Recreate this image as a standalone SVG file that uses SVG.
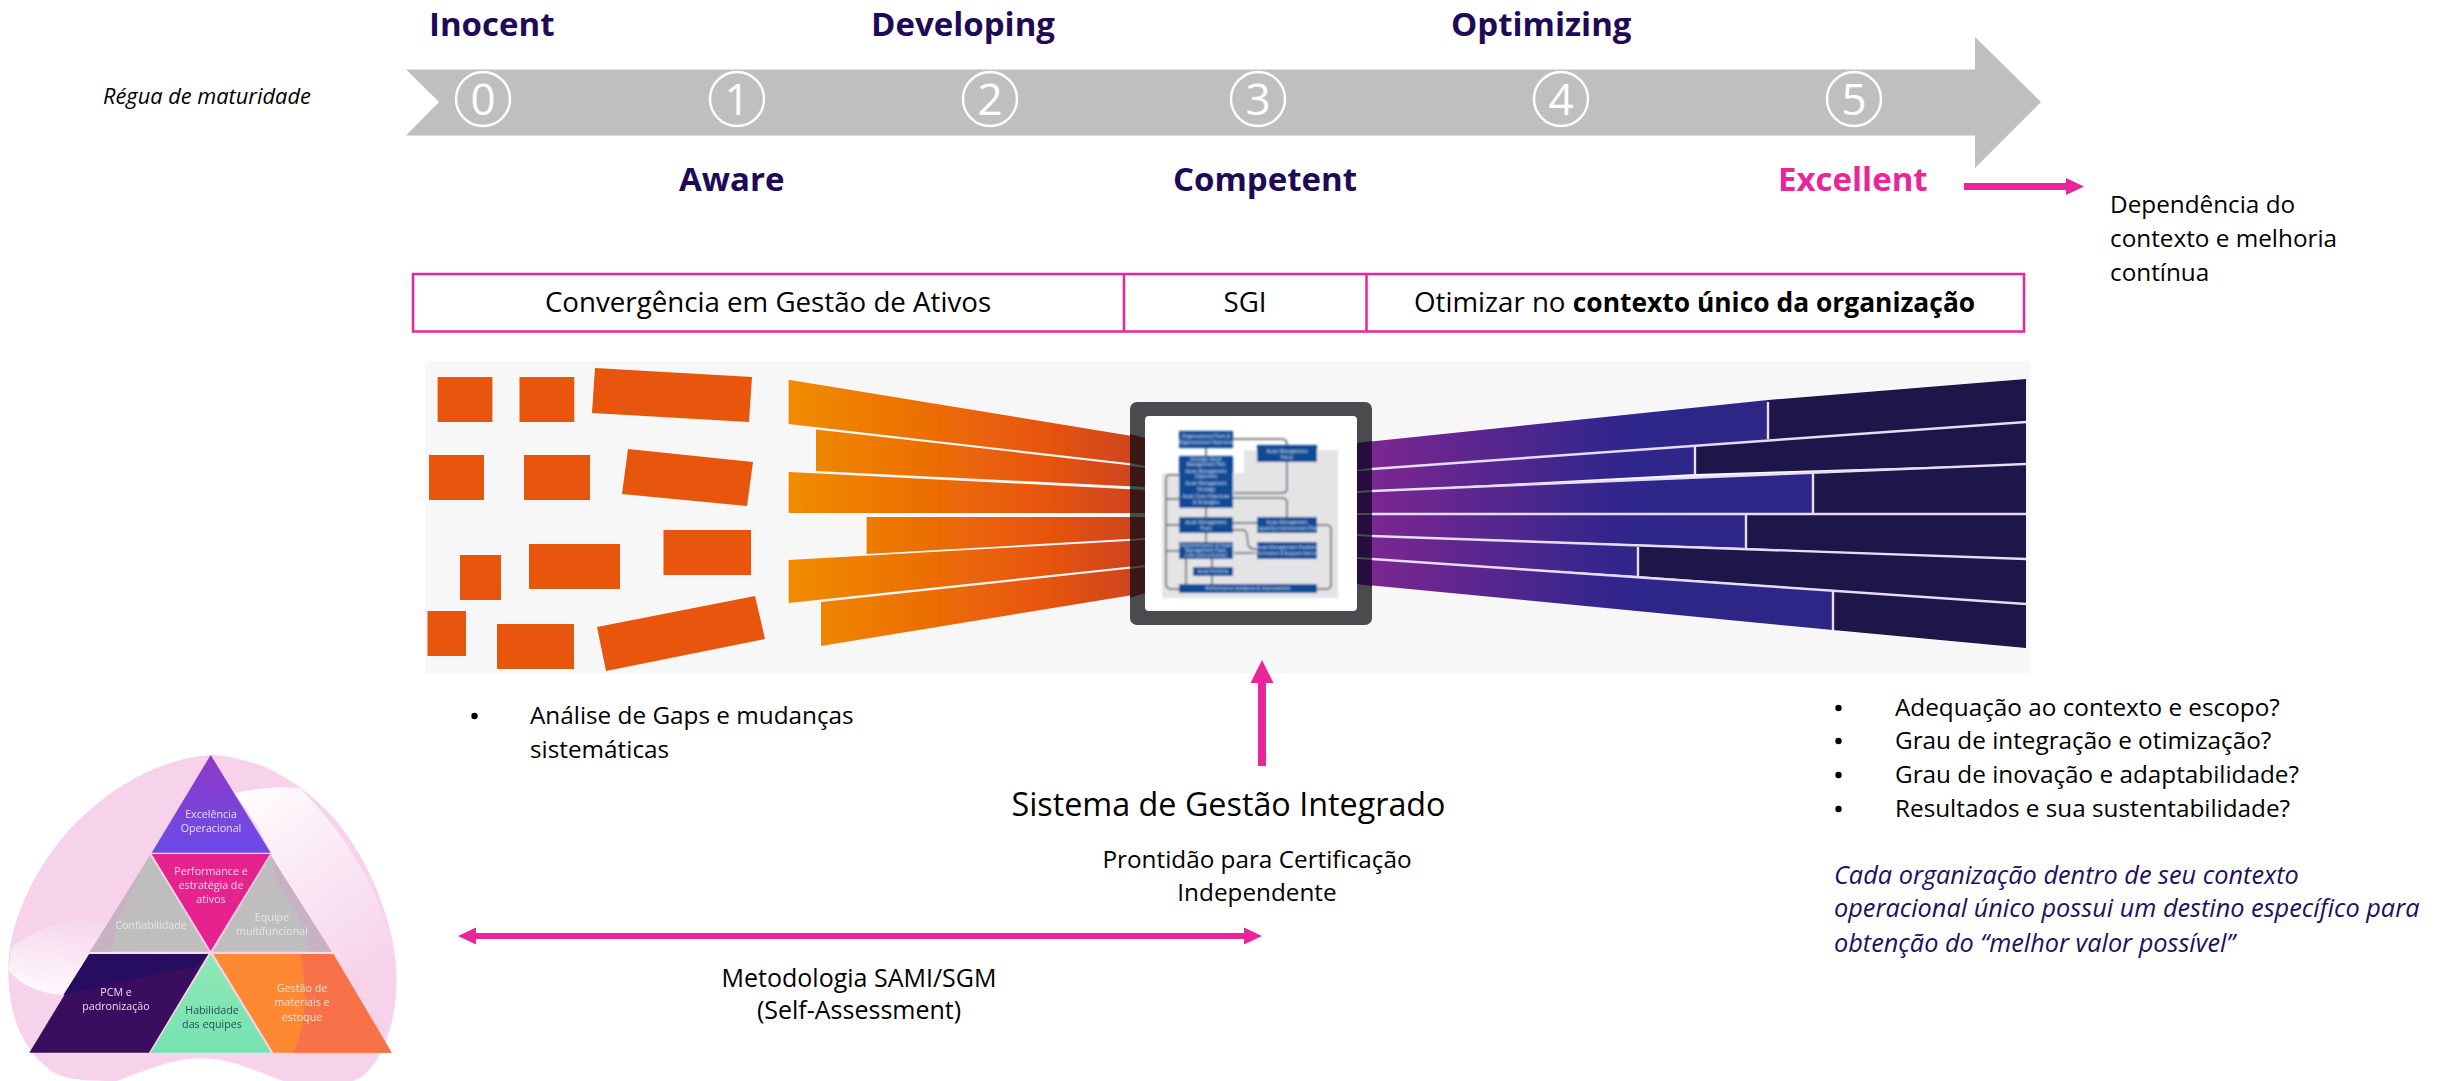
<svg xmlns="http://www.w3.org/2000/svg" width="2453" height="1081" viewBox="0 0 2453 1081">
<defs>
<style>
text{font-family:"Open Sans","Noto Sans","Liberation Sans",sans-serif;fill:#000}
.lv{font-size:33px;font-weight:700;fill:#1F0A58}
.num{font-size:44px;fill:#fff;text-anchor:middle}
.ring{fill:none;stroke:#fff;stroke-width:2.4}
.t24{font-size:24.3px}
.t25{font-size:25px}
.t28{font-size:27.7px}
.mid{text-anchor:middle}
.it{font-size:25.3px;font-style:italic;fill:#1F0F5E}
.org{fill:#E8550A}
.pk{fill:#E9259A}
.div{fill:none;stroke:#E9259A;stroke-width:2.5}
.fan{fill:url(#gOrange)}
.fl{fill:url(#gPurple)}
.fd{fill:#1C1248}
.sep{stroke:#E6DDF5;stroke-width:2.4;fill:none}
.mb{fill:#0F4C96}
.mc{fill:none;stroke:#55585E;stroke-width:1.5}
.mt{font-size:4.6px;fill:#D5E3F5;text-anchor:middle}
.p{font-size:10.7px;text-anchor:middle}
</style>
<linearGradient id="gOrange" gradientUnits="userSpaceOnUse" x1="789" y1="0" x2="1145" y2="0">
<stop offset="0" stop-color="#F08C00"/><stop offset=".7" stop-color="#E8560A"/><stop offset="1" stop-color="#CC4222"/>
</linearGradient>
<linearGradient id="gPurple" gradientUnits="userSpaceOnUse" x1="1372" y1="0" x2="1700" y2="0">
<stop offset="0" stop-color="#7C2690"/><stop offset=".75" stop-color="#30288C"/><stop offset="1" stop-color="#2D2786"/>
</linearGradient>
<linearGradient id="gTop" x1="0" y1="0" x2="0" y2="1">
<stop offset="0" stop-color="#9038C4"/><stop offset="1" stop-color="#6A4CEA"/>
</linearGradient>
<linearGradient id="gGreen" x1="0" y1="0" x2="0" y2="1">
<stop offset="0" stop-color="#8FE8B4"/><stop offset="1" stop-color="#76E2B2"/>
</linearGradient>
<linearGradient id="gW1" x1="0" y1="1" x2="0.3" y2="0">
<stop offset="0" stop-color="#fff" stop-opacity=".95"/><stop offset="1" stop-color="#fff" stop-opacity="0"/>
</linearGradient>
<linearGradient id="gW2" gradientUnits="userSpaceOnUse" x1="760" y1="170" x2="1150" y2="720">
<stop offset="0" stop-color="#fff" stop-opacity=".95"/><stop offset=".55" stop-color="#fff" stop-opacity=".4"/><stop offset="1" stop-color="#fff" stop-opacity="0"/>
</linearGradient>
<filter id="b1" x="-5%" y="-5%" width="110%" height="110%"><feGaussianBlur stdDeviation="0.7"/></filter>
<filter id="b2" x="-5%" y="-5%" width="110%" height="110%"><feGaussianBlur stdDeviation="0.9"/></filter>
<filter id="b3" x="-5%" y="-5%" width="110%" height="110%"><feGaussianBlur stdDeviation="0.3"/></filter>
</defs>

<rect width="2453" height="1081" fill="#fff"/>

<g id="ruler">
<path d="M406 69.5H1975V37L2041 102L1975 168V135.5H406L439 102z" fill="#BFBFBF"/>
<g id="level0"><circle class="ring" cx="483" cy="99" r="27"/><text class="num" x="483" y="115">0</text></g>
<g id="level1"><circle class="ring" cx="737" cy="99" r="27"/><text class="num" x="737" y="115">1</text></g>
<g id="level2"><circle class="ring" cx="990" cy="99" r="27"/><text class="num" x="990" y="115">2</text></g>
<g id="level3"><circle class="ring" cx="1258" cy="99" r="27"/><text class="num" x="1258" y="115">3</text></g>
<g id="level4"><circle class="ring" cx="1561" cy="99" r="27"/><text class="num" x="1561" y="115">4</text></g>
<g id="level5"><circle class="ring" cx="1854" cy="99" r="27"/><text class="num" x="1854" y="115">5</text></g>
</g>
<text x="103" y="104" font-size="21.8" font-style="italic">Régua de maturidade</text>
<g id="labels">
<text class="lv" x="429" y="36">Inocent</text>
<text class="lv" x="871" y="36">Developing</text>
<text class="lv" x="1451" y="36">Optimizing</text>
<text class="lv" x="679" y="191">Aware</text>
<text class="lv" x="1173" y="191">Competent</text>
<text class="lv" x="1778" y="191" style="fill:#E9259A">Excellent</text>
</g>

<text class="t24" x="2110" y="213">Dependência do</text>
<text class="t24" x="2110" y="247">contexto e melhoria</text>
<text class="t24" x="2110" y="281">contínua</text>

<g id="phases">
<rect class="div" x="413" y="274" width="1611" height="57.5"/>
<path class="div" d="M1124 274V331.5M1366.5 274V331.5"/>
<text class="t28 mid" x="768" y="312">Convergência em Gestão de Ativos</text>
<text class="t28 mid" x="1245" y="312">SGI</text>
<text class="t28" x="1414" y="312">Otimizar no <tspan font-weight="700" font-size="26.4">contexto único da organização</tspan></text>
</g>

<rect id="funnel-bg" x="425" y="361" width="1605" height="312" fill="#F7F7F8"/>

<g id="blocks" filter="url(#b1)">
<rect class="org" x="437.6" y="377" width="54.8" height="45"/>
<rect class="org" x="519.5" y="377" width="54.8" height="45"/>
<polygon class="org" points="595,368 752,377 749,422 592,413"/>
<rect class="org" x="429" y="455" width="55" height="45"/>
<rect class="org" x="524" y="455" width="66" height="45"/>
<polygon class="org" points="628,449 753,462 747,506 622,494"/>
<rect class="org" x="460" y="555" width="41" height="45"/>
<rect class="org" x="529" y="544" width="91" height="45"/>
<rect class="org" x="663.5" y="530" width="87.5" height="45"/>
<rect class="org" x="427.5" y="611" width="38.5" height="45"/>
<rect class="org" x="497" y="624" width="77" height="45"/>
<polygon class="org" points="597,627 755,596 765,639 606,671"/>
<polygon class="fan" points="788.6,379.7 1132,436 1145,439 1145,465 788.6,424"/>
<polygon class="fan" points="816,429.5 1145,467 1145,487 816,471"/>
<polygon class="fan" points="788.6,472 1145,490 1145,513 788.6,513"/>
<polygon class="fan" points="866.6,517 1145,517 1145,538 866.6,554"/>
<polygon class="fan" points="788.6,560 1145,540 1145,565 788.6,603"/>
<polygon class="fan" points="821,602 1145,567 1145,593 821,646"/>
</g>

<g id="purple-bands" filter="url(#b1)">
<polygon class="fl" points="1357,443 1768,400 1768,440 1357,470"/>
<polygon class="fd" points="1768,400 2026,379 2026,422 1768,440"/>
<polygon class="fl" points="1357,470 1695,445 1695,474 1357,492"/>
<polygon class="fd" points="1695,445 2026,422 2026,464 1695,474"/>
<polygon class="fl" points="1357,492 1813,473 1813,514 1357,514"/>
<polygon class="fd" points="1813,473 2026,464 2026,514 1813,514"/>
<polygon class="fl" points="1357,514 1746,514 1746,548 1357,535"/>
<polygon class="fd" points="1746,514 2026,514 2026,559 1746,548"/>
<polygon class="fl" points="1357,535 1638,546 1638,576 1357,558"/>
<polygon class="fd" points="1638,546 2026,559 2026,604 1638,576"/>
<polygon class="fl" points="1357,558 1833,591 1833,630 1357,584"/>
<polygon class="fd" points="1833,591 2026,604 2026,648 1833,630"/>
<path class="sep" d="M1372 469L2026 422M1372 491L2026 464M1372 514H2026M1372 536L2026 559M1372 559L2026 604M1768 402V439M1695 446V475M1813 474V514M1746 514V548M1638 547V576M1833 592V630"/>
</g>

<g id="monitor" filter="url(#b1)">
<rect x="1130" y="402" width="242" height="223" rx="7" fill="#4B4B50"/>
<rect x="1145" y="416" width="212" height="195" rx="4" fill="#fff"/>
<g fill="#3A1712">
<polygon points="1130,434 1145,438 1145,466 1130,463"/>
<polygon points="1130,466 1145,468 1145,487 1130,486"/>
<polygon points="1130,489 1145,490 1145,513 1130,513"/>
<polygon points="1130,517 1145,517 1145,538 1130,539"/>
<polygon points="1130,541 1145,540 1145,565 1130,567"/>
<polygon points="1130,569 1145,567 1145,593 1130,598"/>
</g>
<g fill="#260C3C">
<polygon points="1357,443 1372,441 1372,468 1357,470"/>
<polygon points="1357,471 1372,470 1372,490 1357,491"/>
<polygon points="1357,493 1372,492 1372,513 1357,513"/>
<polygon points="1357,515 1372,515 1372,535 1357,534"/>
<polygon points="1357,536 1372,537 1372,558 1357,557"/>
<polygon points="1357,559 1372,560 1372,586 1357,584"/>
</g>
</g>

<g id="mini-diagram" filter="url(#b2)">
<polygon points="1244,450 1338,450 1338,598 1162,598 1162,473 1244,473" fill="#E4E4E6"/>
<path class="mc" d="M1233 439H1282Q1287 439 1287 445M1287 462V488Q1287 493 1282 493H1234M1233 498H1282Q1287 498 1287 503V517M1179 475H1170Q1166 475 1166 479V584Q1166 589 1172 589H1179M1166 499H1179M1166 525H1179M1166 551H1179M1206 448V456M1206 508V517M1206 533V542M1212 559V567M1212 576V584M1233 523H1257M1233 530L1243 530Q1246 530 1247 535L1248 544Q1249 549 1254 549H1257M1257 553H1234M1317 525H1326Q1331 525 1331 530V584Q1331 589 1326 589H1317M1186 559V584"/>
<rect class="mb" x="1179" y="431" width="54" height="17"/>
<rect class="mb" x="1257" y="445" width="60" height="17"/>
<rect class="mb" x="1179" y="456" width="54" height="52"/>
<rect class="mb" x="1179" y="517" width="54" height="16"/>
<rect class="mb" x="1257" y="517" width="60" height="16"/>
<rect class="mb" x="1179" y="542" width="54" height="17"/>
<rect class="mb" x="1257" y="542" width="60" height="17"/>
<rect class="mb" x="1193" y="567" width="40" height="9"/>
<rect class="mb" x="1179" y="584" width="138" height="9"/>
<text class="mt" x="1206" y="438">Organizational Plans &amp;</text><text class="mt" x="1206" y="444">Organizational Objectives</text>
<text class="mt" x="1287" y="453">Asset Management</text><text class="mt" x="1287" y="459">Policy</text>
<text class="mt" x="1206" y="461">Strategic Asset</text><text class="mt" x="1206" y="466">Management Plan</text>
<text class="mt" x="1206" y="473">Asset Management</text><text class="mt" x="1206" y="478">Objectives</text>
<text class="mt" x="1206" y="485">Asset Management</text><text class="mt" x="1206" y="491">Strategy</text>
<text class="mt" x="1206" y="498">Asset Class Objectives</text><text class="mt" x="1206" y="504">&amp; Strategies</text>
<text class="mt" x="1206" y="524">Asset Management</text><text class="mt" x="1206" y="530">Plans</text>
<text class="mt" x="1287" y="524">Asset Management</text><text class="mt" x="1287" y="530">Capability Improvement Plan</text>
<text class="mt" x="1206" y="547">Implementation of Asset</text><text class="mt" x="1206" y="552">Management Plans</text><text class="mt" x="1206" y="557">(Life cycle activities)</text>
<text class="mt" x="1287" y="549">Asset Management Enablers</text><text class="mt" x="1287" y="555">(Information &amp; Support Services)</text>
<text class="mt" x="1213" y="573">Asset Portfolio</text>
<text class="mt" x="1248" y="590">Performance Validation &amp; Improvement</text>
</g>

<g id="connectors">
<path class="pk" d="M1964 183H2066V178L2084 186.5L2066 195V190H1964z"/>
<path class="pk" d="M1258 766V683H1250.5L1262 660L1273.5 683H1266V766z"/>
<path class="pk" d="M476 933H1244V927.5L1262 936L1244 944.5V939H476V944.5L458 936L476 927.5z"/>
</g>

<g id="gaps-note">
<circle cx="474.5" cy="716" r="3.2"/>
<text class="t24" x="530" y="724">Análise de Gaps e mudanças</text>
<text class="t24" x="530" y="758">sistemáticas</text>
</g>

<g id="sgi-note">
<text class="mid" x="1228.5" y="816" font-size="32.3">Sistema de Gestão Integrado</text>
<text class="t24 mid" x="1257" y="868">Prontidão para Certificação</text>
<text class="t24 mid" x="1257" y="901">Independente</text>
</g>

<g id="sami-note">
<text class="t25 mid" x="859" y="987">Metodologia SAMI/SGM</text>
<text class="t25 mid" x="859" y="1019">(Self-Assessment)</text>
</g>

<g id="questions">
<circle cx="1838.5" cy="708" r="3.2"/><text class="t24" x="1895" y="716">Adequação ao contexto e escopo?</text>
<circle cx="1838.5" cy="741" r="3.2"/><text class="t24" x="1895" y="749">Grau de integração e otimização?</text>
<circle cx="1838.5" cy="775" r="3.2"/><text class="t24" x="1895" y="783">Grau de inovação e adaptabilidade?</text>
<circle cx="1838.5" cy="809" r="3.2"/><text class="t24" x="1895" y="817">Resultados e sua sustentabilidade?</text>
<text class="it" x="1834" y="884">Cada organização dentro de seu contexto</text>
<text class="it" x="1834" y="917">operacional único possui um destino específico para</text>
<text class="it" x="1834" y="952">obtenção do “melhor valor possível”</text>
</g>

<g id="pyramid" transform="translate(0 730) scale(.33333)">
<g filter="url(#b2)">
<path d="M630 75C470 85 300 190 190 320C90 440 25 590 25 720C25 860 70 960 150 1020C190 1050 260 1053 350 1053C440 1020 520 985 600 985C700 985 780 1030 850 1053H1060C1130 1030 1190 900 1190 750C1190 600 1120 420 1030 300C960 205 850 130 780 105C730 90 680 75 630 75z" fill="#F6D3EA"/>
<path d="M25 720C70 780 170 805 240 790C350 765 480 720 600 700L640 560C400 520 150 560 35 650z" fill="url(#gW1)"/>
<path d="M700 190C780 172 850 170 900 175C1010 285 1120 440 1170 620C1180 660 1188 700 1190 750L900 680C880 500 800 300 700 190z" fill="url(#gW2)"/>
</g>
<g filter="url(#b2)">
<polygon points="632,75 812,368 455,368" fill="url(#gTop)"/>
<polygon points="450,376 628,665 270,665" fill="#BFBDBE"/>
<polygon points="450,378 270,665 335,665 355,570 425,420" fill="#C8B2C2"/>
<polygon points="812,376 995,665 638,665" fill="#BFBDBE"/>
<polygon points="812,378 995,665 925,665 905,580 830,450" fill="#C8B2C2"/>
<polygon points="455,372 810,372 632,663" fill="#E6238F"/>
<polygon points="268,672 625,672 447,968 88,968" fill="#3B0A5E"/>
<path d="M268 672H625L585 712C450 730 320 770 190 795z" fill="#25085E"/>
<polygon points="632,672 813,968 452,968" fill="url(#gGreen)"/>
<polygon points="640,672 1000,672 1175,968 820,968" fill="#FF8833"/>
<path d="M900 672H1000L1175 968H880C915 900 925 780 900 672z" fill="#F7724A"/>
</g>
</g>
<g id="pyramid-labels" filter="url(#b3)">
<text class="p" x="211" y="818" style="fill:#E6DAFA">Excelência</text>
<text class="p" x="211" y="832" style="fill:#E6DAFA">Operacional</text>
<text class="p" x="211" y="875" style="fill:#F9D8EA">Performance e</text>
<text class="p" x="211" y="889" style="fill:#F9D8EA">estratégia de</text>
<text class="p" x="211" y="903" style="fill:#F9D8EA">ativos</text>
<text class="p" x="151" y="929" style="fill:#E6E6E6">Confiabilidade</text>
<text class="p" x="272" y="921" style="fill:#E6E6E6">Equipe</text>
<text class="p" x="272" y="935" style="fill:#E6E6E6">multifuncional</text>
<text class="p" x="116" y="996" style="fill:#E8DAF0">PCM e</text>
<text class="p" x="116" y="1010" style="fill:#E8DAF0">padronização</text>
<text class="p" x="212" y="1014" style="fill:#1F5058">Habilidade</text>
<text class="p" x="212" y="1028" style="fill:#1F5058">das equipes</text>
<text class="p" x="302" y="992" style="fill:#FBE3D0">Gestão de</text>
<text class="p" x="302" y="1006" style="fill:#FBE3D0">materiais e</text>
<text class="p" x="302" y="1021" style="fill:#FBE3D0">estoque</text>
</g>
</svg>
